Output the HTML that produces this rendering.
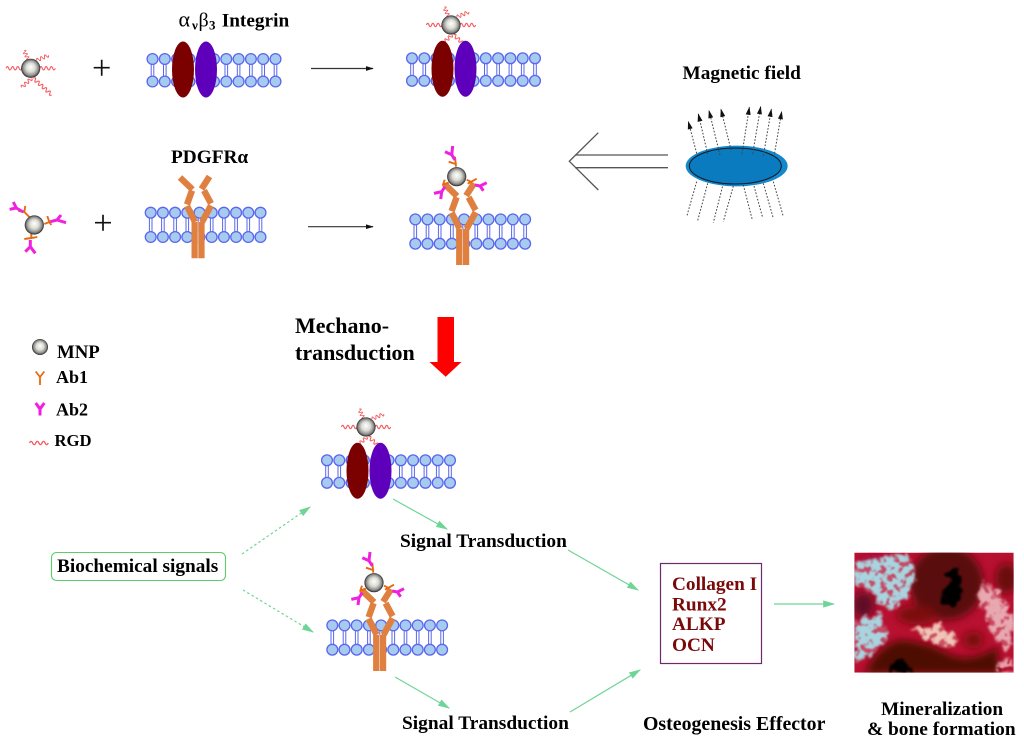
<!DOCTYPE html>
<html>
<head>
<meta charset="utf-8">
<style>
html,body{margin:0;padding:0;background:#fff}
svg{display:block;filter:blur(.35px)}
text{font-family:"Liberation Serif",serif;font-weight:bold;fill:#000;font-size:19.3px}
</style>
</head>
<body>
<svg width="1024" height="742" viewBox="0 0 1024 742" xmlns="http://www.w3.org/2000/svg">
<defs>
<radialGradient id="ball" cx="50%" cy="50%" r="52%" fx="50%" fy="42%">
<stop offset="0" stop-color="#fff"/><stop offset=".45" stop-color="#dcdcd4"/><stop offset=".78" stop-color="#8a8a8a"/><stop offset="1" stop-color="#111"/>
</radialGradient>
<g id="lA">
<path d="M-1.3 5V17.5M1.3 5V17.5" stroke="#5a66ee" stroke-width="1" fill="none"/>
<circle cy="0" r="5.4" fill="#a6cbee" stroke="#5a66ee" stroke-width="1.3"/>
<circle cy="22.5" r="5.4" fill="#a6cbee" stroke="#5a66ee" stroke-width="1.3"/>
</g>
<g id="lB">
<path d="M-1.3 5V19M1.3 5V19" stroke="#5a66ee" stroke-width="1" fill="none"/>
<circle cy="0" r="5.4" fill="#a6cbee" stroke="#5a66ee" stroke-width="1.3"/>
<circle cy="24.3" r="5.4" fill="#a6cbee" stroke="#5a66ee" stroke-width="1.3"/>
</g>
<path id="w" d="M0 0q1.3-3.4 2.6 0t2.6 0t2.6 0t2.6 0t2.6 0t2.6 0" fill="none" stroke="#f4585c" stroke-width="1.1"/>
<path id="w2" d="M0 0q1.3-3.4 2.6 0t2.6 0t2.6 0t2.6 0t2.6 0t2.6 0t2.6 0t2.6 0t2.6 0t2.6 0" fill="none" stroke="#f4585c" stroke-width="1.1"/>
<circle id="b" r="9.6" fill="url(#ball)"/>
<g id="rgdball">
<use href="#w" transform="translate(-9 0) rotate(180)"/>
<use href="#w" transform="translate(9 0)"/>
<use href="#w" transform="translate(-2.3 -8.3) rotate(-115) scale(.68 1)"/>
<use href="#w" transform="translate(6 -8) rotate(-23) scale(.82 1)"/>
<use href="#w" transform="translate(1 10) rotate(138) scale(.87 1)"/>
<use href="#w2" transform="translate(2.7 10) rotate(42) scale(.95 1)"/>
<use href="#b"/>
</g>
<g id="integrinMem">
<use href="#lA" x="152.5" y="59"/><use href="#lA" x="164.8" y="59"/><use href="#lA" x="177.1" y="59"/><use href="#lA" x="189.4" y="59"/><use href="#lA" x="201.7" y="59"/><use href="#lA" x="214" y="59"/><use href="#lA" x="226.3" y="59"/><use href="#lA" x="238.6" y="59"/><use href="#lA" x="250.9" y="59"/><use href="#lA" x="263.2" y="59"/><use href="#lA" x="275.5" y="59"/>
<ellipse cx="183" cy="69.5" rx="11" ry="28" fill="#7b0000"/>
<ellipse cx="206" cy="69.5" rx="11" ry="28" fill="#5e00bb"/>
</g>
<g id="rec">
<use href="#lB" x="150.7" y="212.7"/><use href="#lB" x="162.9" y="212.7"/><use href="#lB" x="175.1" y="212.7"/><use href="#lB" x="187.3" y="212.7"/><use href="#lB" x="199.5" y="212.7"/><use href="#lB" x="211.7" y="212.7"/><use href="#lB" x="223.9" y="212.7"/><use href="#lB" x="236.1" y="212.7"/><use href="#lB" x="248.3" y="212.7"/><use href="#lB" x="260.5" y="212.7"/>
<g fill="none" stroke="#e08040" stroke-width="6.4">
<path d="M180 177.5L192.5 189.5"/><path d="M192 190.5L187 204.5"/><path d="M187 206L195 222"/><path d="M194.7 222V258.3"/>
<path d="M201.4 222V258.3"/><path d="M202 222L211 205.5"/><path d="M211 203.5L204 190.5"/><path d="M201.5 189L209.5 176.5"/>
</g>
<path d="M198 222V258.3" stroke="#f4e4d8" stroke-width=".6"/>
</g>
<g id="abballC">
<path d="M-5 -8L-10 -13M-16 -14L-10 -13L-9 -19M10 -1L15 -3M13 -9L15 -3L17 0M-3 9V13M-10 14L-3 13L3 12" fill="none" stroke="#e8680f" stroke-width="1.9"/>
<path d="M-11 -13L-18 -17M-21 -23L-18 -17L-24.7 -15.7M16 -3.3L22.7 -5M26.7 -10L22.7 -5L31.7 -2.3M-4 15V21.7M-9 26.7L-4 21.7L1 28.3" fill="none" stroke="#f020e0" stroke-width="3"/>
<use href="#b"/>
</g>
<g id="abballT">
<path d="M-.7 -10L-1.7 -20M-8 -15L0 -12.3M10 3L14 5M11 7L20 2M-8 6L-13 7.7M-12 3L-14 9" fill="none" stroke="#e8680f" stroke-width="1.9"/>
<path d="M-1.7 -16.7L-5 -22M-11.7 -25L-5 -22L-4 -30.7M18.3 8.3L23.3 9.3M30 6L23.3 9.3L26.7 14M-11.7 10L-15 15M-22.7 16.7L-15 15L-16 22.3" fill="none" stroke="#f020e0" stroke-width="3"/>
<use href="#b"/>
</g>
<marker id="mk" viewBox="0 0 10 6" refX="9" refY="3" markerWidth="8" markerHeight="5" markerUnits="userSpaceOnUse" orient="auto"><path d="M0 0L10 3L0 6z" fill="#111"/></marker>
<marker id="gk" viewBox="0 0 10 6" refX="9" refY="3" markerWidth="12" markerHeight="8" markerUnits="userSpaceOnUse" orient="auto"><path d="M0 0L10 3L0 6z" fill="#6fd596"/></marker>
<marker id="fk" viewBox="0 0 10 6" refX="9" refY="3" markerWidth="26" markerHeight="15" markerUnits="userSpaceOnUse" orient="auto"><path d="M0 0L10 3L0 6z" fill="#111"/></marker>
<filter id="rough" x="-20%" y="-20%" width="140%" height="140%">
<feTurbulence type="fractalNoise" baseFrequency=".045" numOctaves="3" seed="4" result="n"/>
<feDisplacementMap in="SourceGraphic" in2="n" scale="45" xChannelSelector="R" yChannelSelector="G"/>
<feGaussianBlur stdDeviation="3"/>
</filter>
<filter id="speck" x="-10%" y="-10%" width="120%" height="120%">
<feTurbulence type="fractalNoise" baseFrequency=".05" numOctaves="2" seed="7"/>
<feColorMatrix values="0 0 0 0 0 0 0 0 0 0 0 0 0 0 0 7 0 0 0 -2.5"/>
<feComposite in="SourceGraphic" operator="in"/>
<feGaussianBlur stdDeviation="2.5"/>
</filter>
<filter id="soft" x="-30%" y="-30%" width="160%" height="160%"><feGaussianBlur stdDeviation="12"/></filter>
<clipPath id="pc"><rect x="43" y="38" width="478" height="360"/></clipPath>
</defs>

<use href="#rgdball" x="30.7" y="68.3"/>
<path d="M93.7 67.7H109.7M101.7 59.7V75.7M95 222.7H111M103 214.7V230.7" stroke="#111" stroke-width="1.7"/>
<use href="#integrinMem"/>
<line x1="311" y1="68.5" x2="373" y2="68.5" stroke="#333" stroke-width="1.2" marker-end="url(#mk)"/>
<use href="#rgdball" x="451" y="25"/>
<use href="#integrinMem" x="259.5" y="-.7"/>

<use href="#abballC" x="34.3" y="225"/>
<use href="#rec"/>
<line x1="308" y1="226.7" x2="373" y2="226.7" stroke="#333" stroke-width="1.2" marker-end="url(#mk)"/>
<use href="#rec" x="264.6" y="6.7"/>
<use href="#abballT" x="456.7" y="176.7"/>

<text y="26.7"><tspan x="178.5" style="font-size:22px;font-weight:normal">α</tspan><tspan x="192" dy="3" style="font-size:13px">ν</tspan><tspan x="198.5" dy="-3" style="font-size:20px;font-weight:normal">β</tspan><tspan x="209" dy="3" style="font-size:13px">3</tspan><tspan x="221.7" dy="-3">Integrin</tspan></text>
<text x="171" y="163">PDGFRα</text>
<text x="682.5" y="79">Magnetic field</text>

<!-- double arrow -->
<path d="M575 155H668M575 167.7H668M598.3 132.7L569.3 161.3L598.3 190" fill="none" stroke="#555" stroke-width="1.3"/>

<!-- magnet -->
<g transform="translate(560 50) scale(.33333)">
<ellipse cx="530" cy="348" rx="153" ry="61" fill="#1488cc"/>
<ellipse cx="526" cy="348" rx="138" ry="54" fill="#0a7bbf" stroke="#101820" stroke-width="3"/>
<g fill="none" stroke="#444" stroke-width="3" stroke-dasharray="5 5">
<path d="M410 310L385 215" marker-end="url(#fk)"/><path d="M443 312L415 192" marker-end="url(#fk)"/><path d="M480 315L447 182" marker-end="url(#fk)"/><path d="M513 300L483 178" marker-end="url(#fk)"/>
<path d="M546 312L568 172" marker-end="url(#fk)"/><path d="M578 312L602 170" marker-end="url(#fk)"/><path d="M610 318L634 178" marker-end="url(#fk)"/><path d="M642 320L665 185" marker-end="url(#fk)"/>
<path d="M410 395L380 500"/><path d="M443 400L413 512"/><path d="M490 400L460 518"/><path d="M520 408L490 515"/>
<path d="M550 405L577 510"/><path d="M582 408L608 503"/><path d="M610 400L640 505"/><path d="M640 395L670 500"/>
</g>
</g>

<!-- mechano -->
<text x="295" y="333" style="font-size:22px">Mechano-</text>
<text x="295" y="360" style="font-size:22px">transduction</text>
<path d="M437.5 317H454V362H461.5L445.7 376.7L429.5 362H437.5z" fill="#ff0000"/>

<!-- legend -->
<circle cx="40" cy="347" r="8" fill="url(#ball)"/>
<text x="57" y="358" style="font-size:18.8px">MNP</text>
<path d="M35.7 371.5L40 377V385M44.3 371.5L40 377" fill="none" stroke="#e8680f" stroke-width="1.8"/>
<text x="56" y="383" style="font-size:18px">Ab1</text>
<path d="M35.7 403L40 409V415.5M44.3 403L40 409" fill="none" stroke="#f020e0" stroke-width="3"/>
<text x="56" y="415.5" style="font-size:18px">Ab2</text>
<use href="#w" transform="translate(29.5 443) scale(1.2 1)"/>
<text x="54.5" y="446" style="font-size:16.7px">RGD</text>

<!-- lower -->
<use href="#rgdball" x="366" y="427"/>
<use href="#integrinMem" x="174.5" y="401.3"/>
<use href="#rec" x="181.6" y="412.7"/>
<use href="#abballT" x="374" y="582.7"/>

<text x="400" y="547" style="font-size:19.4px">Signal Transduction</text>
<text x="402" y="729" style="font-size:19.4px">Signal Transduction</text>
<rect x="51.5" y="552.5" width="174" height="28" rx="5" fill="#fff" stroke="#5ccf6c" stroke-width="1.1"/>
<text x="57" y="572">Biochemical signals</text>

<g fill="none" stroke="#6fd596" stroke-width="1.2">
<path d="M242 554L310 507" stroke-dasharray="2.5 2.5" marker-end="url(#gk)"/>
<path d="M243 590L313 632" stroke-dasharray="2.5 2.5" marker-end="url(#gk)"/>
<path d="M393 499L447 529" marker-end="url(#gk)"/>
<path d="M395 677L449 708" marker-end="url(#gk)"/>
<path d="M568 550L638 590" marker-end="url(#gk)"/>
<path d="M570 712L640 670" marker-end="url(#gk)"/>
<path d="M774 604L834 604" marker-end="url(#gk)"/>
</g>

<rect x="660.5" y="563.5" width="101" height="100" fill="#fff" stroke="#6b2a6b" stroke-width="1.2"/>
<text x="672" y="590" style="fill:#7a0a0a">Collagen I</text>
<text x="672" y="610.5" style="fill:#7a0a0a">Runx2</text>
<text x="672" y="630" style="fill:#7a0a0a">ALKP</text>
<text x="672" y="651" style="fill:#7a0a0a">OCN</text>

<text x="643" y="730" style="font-size:19.85px">Osteogenesis Effector</text>
<text x="881" y="715">Mineralization</text>
<text x="867" y="735" style="font-size:19.4px">&amp; bone formation</text>

<!-- micrograph -->
<g transform="translate(840 540) scale(.33333)">
<g clip-path="url(#pc)">
<rect x="43" y="38" width="478" height="360" fill="#b81030"/>
<g filter="url(#soft)">
<ellipse cx="320" cy="130" rx="110" ry="110" fill="#5a0a08"/>
<path d="M75 400Q110 320 180 300Q260 305 330 345Q400 370 470 320L480 400z" fill="#4e0c04"/>
<ellipse cx="70" cy="195" rx="32" ry="38" fill="#5e0a28"/>
<ellipse cx="500" cy="115" rx="34" ry="45" fill="#6b0e10"/>
<ellipse cx="230" cy="225" rx="60" ry="28" fill="#7c0c10"/>
<ellipse cx="400" cy="300" rx="30" ry="25" fill="#7c0c10"/>
<ellipse cx="100" cy="62" rx="40" ry="18" fill="#a01040"/>
</g>
<g opacity=".55" filter="url(#rough)">
<path d="M45 70L130 50L200 40L230 90L200 180L150 210L100 170L45 130z" fill="#d07a8c"/>
<path d="M45 240L110 225L150 270L125 320L80 350L45 370z" fill="#d07a8c"/>
<path d="M220 265L300 255L355 295L330 325L250 300z" fill="#e08a8a"/>
<path d="M430 120L490 170L520 240L510 330L470 310L440 240L410 170z" fill="#d87a88"/>
</g>
<g filter="url(#speck)">
<g filter="url(#rough)">
<path d="M45 70L130 50L200 40L230 90L200 180L150 210L100 170L45 130z" fill="#a8d4e0"/>
<path d="M45 240L110 225L150 270L125 320L80 350L45 370z" fill="#a8d4e0"/>
<path d="M220 265L300 255L355 295L330 325L250 300z" fill="#f0c4b8"/>
<path d="M430 120L490 170L520 240L510 330L470 310L440 240L410 170z" fill="#e8a8b0"/>
<path d="M480 370L520 345V398H470z" fill="#e8a0a8"/>
</g>
</g>
<g fill="#000" filter="url(#rough)">
<path d="M325 100L355 75L360 130L365 180L345 205L310 185L300 165L325 130z"/>
<path d="M150 365L190 355L225 395H150z"/>
</g>
</g>
</g>
</svg>
</body>
</html>
